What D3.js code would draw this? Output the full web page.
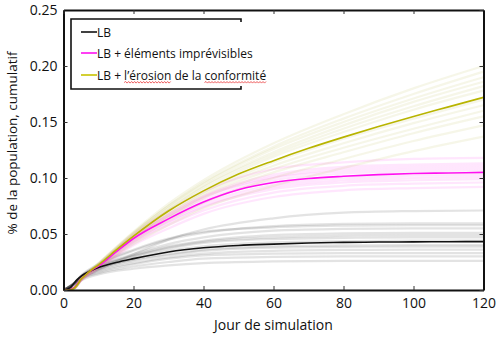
<!DOCTYPE html>
<html>
<head>
<meta charset="utf-8">
<script src="https://cdn.jsdelivr.net/npm/d3@7"></script>
<style>
  html, body { margin: 0; padding: 0; background: #fff; }
  svg { display: block; font-family: "Open Sans", "Noto Sans", sans-serif; }
</style>
</head>
<body>
<svg id="chart" width="500" height="339"></svg>
<script>
// Mean cumulative share per scenario
const days = [0, 1, 2, 3, 4, 5, 6, 8, 10, 15, 20, 30, 40, 50, 60, 70, 80, 90, 100, 110, 120];
const meanLB = [0, 0.0008, 0.0022, 0.006, 0.0095, 0.0122, 0.0143, 0.0175, 0.020, 0.0245, 0.028, 0.034, 0.0377, 0.0398, 0.041, 0.042, 0.0425, 0.0428, 0.043, 0.0431, 0.0432];
const meanImprevus = [0, 0, 0.0004, 0.0018, 0.0055, 0.0095, 0.0125, 0.0175, 0.0215, 0.034, 0.046, 0.0635, 0.0785, 0.0895, 0.096, 0.0995, 0.1015, 0.103, 0.104, 0.1045, 0.105];
const meanErosion = [0, 0, 0.0003, 0.0015, 0.005, 0.0095, 0.0125, 0.018, 0.0225, 0.0355, 0.048, 0.0705, 0.0885, 0.1035, 0.1155, 0.1265, 0.1365, 0.146, 0.155, 0.1635, 0.172];

// Individual simulation runs
const runDays = [0, 3, 5, 10, 20, 30, 40, 60, 80, 100, 120];
const runsLB = [
  [0, 0.005, 0.010, 0.018, 0.032, 0.045, 0.054, 0.064, 0.069, 0.0705, 0.071],
  [0, 0.006, 0.012, 0.022, 0.035, 0.045, 0.051, 0.057, 0.059, 0.0595, 0.0595],
  [0, 0.0065, 0.013, 0.023, 0.036, 0.046, 0.052, 0.056, 0.0575, 0.058, 0.058],
  [0, 0.006, 0.0125, 0.021, 0.032, 0.041, 0.047, 0.053, 0.0545, 0.055, 0.055],
  [0, 0.006, 0.012, 0.021, 0.031, 0.039, 0.044, 0.049, 0.0505, 0.051, 0.051],
  [0, 0.0055, 0.0115, 0.020, 0.030, 0.038, 0.043, 0.047, 0.0485, 0.049, 0.049],
  [0, 0.006, 0.012, 0.0205, 0.030, 0.037, 0.042, 0.0455, 0.0465, 0.047, 0.047],
  [0, 0.0055, 0.0115, 0.019, 0.028, 0.035, 0.039, 0.0425, 0.0435, 0.044, 0.044],
  [0, 0.006, 0.012, 0.019, 0.027, 0.032, 0.036, 0.039, 0.0398, 0.040, 0.040],
  [0, 0.0055, 0.011, 0.018, 0.026, 0.031, 0.035, 0.0378, 0.0385, 0.0387, 0.0387],
  [0, 0.005, 0.0105, 0.017, 0.024, 0.029, 0.0325, 0.035, 0.0358, 0.036, 0.036],
  [0, 0.005, 0.010, 0.016, 0.023, 0.028, 0.031, 0.0325, 0.033, 0.033, 0.033],
  [0, 0.0045, 0.0095, 0.015, 0.021, 0.025, 0.028, 0.0295, 0.030, 0.030, 0.030],
  [0, 0.004, 0.0085, 0.014, 0.019, 0.022, 0.024, 0.0255, 0.026, 0.026, 0.026]
];
const runsImprevus = [
  [0, 0.002, 0.010, 0.023, 0.050, 0.071, 0.088, 0.108, 0.114, 0.117, 0.118],
  [0, 0.002, 0.010, 0.022, 0.048, 0.068, 0.084, 0.103, 0.110, 0.112, 0.113],
  [0, 0.0018, 0.0098, 0.022, 0.047, 0.067, 0.083, 0.101, 0.108, 0.110, 0.111],
  [0, 0.002, 0.0100, 0.0222, 0.0475, 0.066, 0.082, 0.100, 0.106, 0.108, 0.109],
  [0, 0.0016, 0.0092, 0.021, 0.046, 0.065, 0.080, 0.098, 0.104, 0.106, 0.107],
  [0, 0.0018, 0.0094, 0.021, 0.045, 0.063, 0.077, 0.094, 0.100, 0.102, 0.103],
  [0, 0.0017, 0.009, 0.0205, 0.044, 0.061, 0.075, 0.092, 0.098, 0.100, 0.101],
  [0, 0.0016, 0.0088, 0.020, 0.043, 0.060, 0.074, 0.090, 0.096, 0.098, 0.099],
  [0, 0.0015, 0.0085, 0.0195, 0.042, 0.058, 0.071, 0.087, 0.093, 0.095, 0.096],
  [0, 0.0014, 0.008, 0.019, 0.040, 0.055, 0.068, 0.083, 0.089, 0.091, 0.092]
];
const runsErosion = [
  [0, 0.0016, 0.010, 0.024, 0.052, 0.077, 0.098, 0.131, 0.157, 0.180, 0.200],
  [0, 0.0015, 0.0098, 0.0235, 0.051, 0.075, 0.096, 0.128, 0.153, 0.175, 0.195],
  [0, 0.0016, 0.010, 0.0238, 0.051, 0.075, 0.095, 0.126, 0.150, 0.171, 0.190],
  [0, 0.0015, 0.0097, 0.023, 0.050, 0.073, 0.093, 0.123, 0.147, 0.168, 0.186],
  [0, 0.0014, 0.0095, 0.023, 0.049, 0.072, 0.092, 0.121, 0.144, 0.164, 0.182],
  [0, 0.0015, 0.0096, 0.0228, 0.049, 0.071, 0.090, 0.119, 0.141, 0.161, 0.178],
  [0, 0.0014, 0.0093, 0.022, 0.047, 0.069, 0.087, 0.114, 0.135, 0.153, 0.170],
  [0, 0.0014, 0.0092, 0.0218, 0.047, 0.068, 0.086, 0.111, 0.131, 0.149, 0.165],
  [0, 0.0013, 0.009, 0.0215, 0.046, 0.066, 0.084, 0.108, 0.127, 0.144, 0.160],
  [0, 0.0013, 0.0088, 0.021, 0.045, 0.065, 0.082, 0.105, 0.123, 0.140, 0.155],
  [0, 0.0012, 0.0085, 0.020, 0.043, 0.062, 0.078, 0.100, 0.117, 0.133, 0.147],
  [0, 0.0012, 0.0082, 0.0195, 0.041, 0.058, 0.073, 0.093, 0.109, 0.124, 0.137]
];

const seriesNames = ["LB", "LB + éléments imprévisibles", "LB + l\u2019érosion de la conformité"];
const xTicks = [0, 20, 40, 60, 80, 100, 120];
const yTicks = [0.00, 0.05, 0.10, 0.15, 0.20, 0.25];
const xLabel = "Jour de simulation";
const yLabel = "% de la population, cumulatif";

const svg = d3.select("#chart");
const margin = { left: 63.5, right: 16.5, top: 10, bottom: 49 };
const W = 500, H = 339;

const x = d3.scaleLinear().domain([0, 120]).range([margin.left, W - margin.right]);
const y = d3.scaleLinear().domain([0, 0.25]).range([H - margin.bottom, margin.top]);

const styles = [
  { mean: "#111111", run: "rgba(60,60,60,0.14)", legend: "#111111" },
  { mean: "#ff10f0", run: "rgba(255,80,240,0.14)", legend: "#ff10f0" },
  { mean: "#b8b400", run: "rgba(190,190,90,0.14)", legend: "#c8c400" }
];

const line = (xs) => d3.line()
  .x((d, i) => x(xs[i]))
  .y(d => y(d))
  .curve(d3.curveMonotoneX);

const plot = svg.append("g");

// faint individual runs
[runsLB, runsImprevus, runsErosion].forEach((runs, k) => {
  plot.append("g").selectAll("path").data(runs).join("path")
    .attr("d", line(runDays))
    .attr("fill", "none")
    .attr("stroke", styles[k].run)
    .attr("stroke-width", 2.2);
});

// mean curves
[meanLB, meanImprevus, meanErosion].forEach((vals, k) => {
  plot.append("path")
    .attr("d", line(days)(vals))
    .attr("fill", "none")
    .attr("stroke", styles[k].mean)
    .attr("stroke-width", 1.6);
});

// axes with inward ticks on all four sides
const fmtY = d3.format(".2f");
const axB = svg.append("g").attr("transform", `translate(0,${y(0)})`)
  .call(d3.axisBottom(x).tickValues(xTicks).tickFormat(d3.format("d")).tickSizeInner(-4).tickSizeOuter(0).tickPadding(8));
const axL = svg.append("g").attr("transform", `translate(${x(0)},0)`)
  .call(d3.axisLeft(y).tickValues(yTicks).tickFormat(fmtY).tickSizeInner(-4).tickSizeOuter(0).tickPadding(6));
const axT = svg.append("g").attr("transform", `translate(0,${y(0.25)})`)
  .call(d3.axisTop(x).tickValues(xTicks).tickFormat("").tickSizeInner(-4).tickSizeOuter(0));
const axR = svg.append("g").attr("transform", `translate(${x(120)},0)`)
  .call(d3.axisRight(y).tickValues(yTicks).tickFormat("").tickSizeInner(-4).tickSizeOuter(0));

[axB, axL, axT, axR].forEach(a => {
  a.select(".domain").attr("stroke", "#111").attr("stroke-width", 2);
  a.selectAll(".tick line").attr("stroke", "#333").attr("stroke-width", 1);
  a.selectAll("text").attr("font-family", "'Open Sans', 'Noto Sans', sans-serif").attr("font-size", 14).attr("fill", "#111");
});

// axis titles
svg.append("text")
  .attr("x", (x(0) + x(120)) / 2).attr("y", 330)
  .attr("text-anchor", "middle").attr("font-size", 14).attr("fill", "#111")
  .text(xLabel);
svg.append("text")
  .attr("transform", `translate(17,${(y(0) + y(0.25)) / 2 - 7}) rotate(-90)`)
  .attr("text-anchor", "middle").attr("font-size", 13.5).attr("fill", "#111")
  .text(yLabel);

// legend
const lg = svg.append("g");
const bx0 = 71, bx1 = 241, by0 = 19, by1 = 89;
lg.append("rect").attr("x", bx0).attr("y", by0).attr("width", bx1 - bx0).attr("height", by1 - by0).attr("fill", "#fff");
lg.append("path")
  .attr("d", `M${bx1},${by0 + 3}V${by0}H${bx0}V${by1}H${bx1}V${by1 - 3}`)
  .attr("fill", "none").attr("stroke", "#111").attr("stroke-width", 1.6);

const rowY = [32, 53, 75];
seriesNames.forEach((name, k) => {
  lg.append("line")
    .attr("x1", 81).attr("x2", 97).attr("y1", rowY[k]).attr("y2", rowY[k])
    .attr("stroke", styles[k].legend).attr("stroke-width", 1.6);
  const t = lg.append("text")
    .attr("x", 97).attr("y", rowY[k] + 4.5)
    .attr("font-size", 12).attr("fill", "#111")
    .text(name);
  if (k === 2) {
    // red wavy spell-check underline beneath two words
    const node = t.node();
    const words = ["l\u2019érosion", "conformité"];
    words.forEach(w => {
      const idx = name.indexOf(w);
      const sx = 97 + node.getSubStringLength(0, idx);
      const ex = sx + node.getSubStringLength(idx, w.length);
      const uy = rowY[k] + 7.5;
      let d = `M${sx},${uy}`;
      let up = true;
      for (let px = sx + 1.5; px <= ex; px += 1.5) {
        d += `L${px},${uy + (up ? -1 : 0.6)}`;
        up = !up;
      }
      lg.append("path").attr("d", d).attr("fill", "none")
        .attr("stroke", "#e8383a").attr("stroke-width", 0.8);
    });
  }
});
</script>
</body>
</html>
